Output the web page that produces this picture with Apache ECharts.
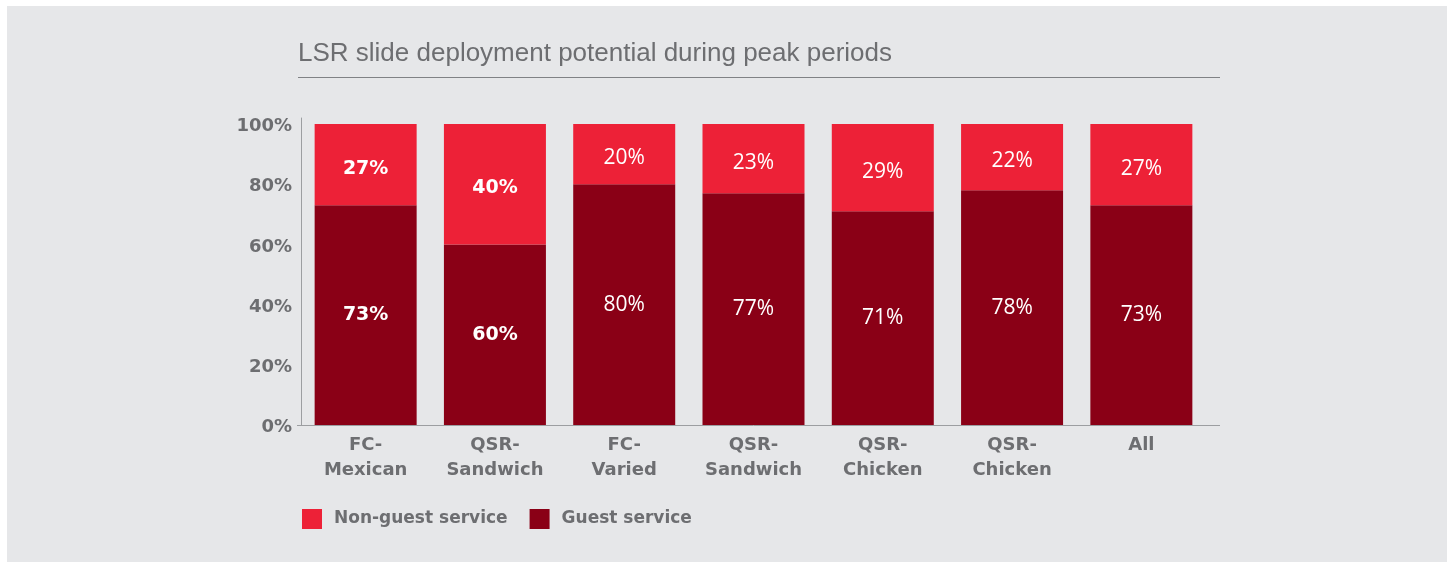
<!DOCTYPE html>
<html>
<head>
<meta charset="utf-8">
<script src="https://cdn.jsdelivr.net/npm/echarts@6/dist/echarts.min.js"></script>
<style>
  html, body { margin: 0; padding: 0; background: #ffffff; }
  #chart { width: 1450px; height: 564px; }
</style>
</head>
<body>
<div id="chart"></div>
<script>
// Restaurant segments along the x axis
const categories = ['FC-\nMexican', 'QSR-\nSandwich', 'FC-\nVaried', 'QSR-\nSandwich', 'QSR-\nChicken', 'QSR-\nChicken', 'All'];
// Share of slide deployment potential, in percent
const guestService = [73, 60, 80, 77, 71, 78, 73];
const nonGuestService = [27, 40, 20, 23, 29, 22, 27];
// Y axis tick values
const yTicks = [0, 20, 40, 60, 80, 100];

const TEXT_GRAY = '#6d6e71';
const AXIS_GRAY = '#9c9ea1';
const DARK_RED = '#8a0016';
const LIGHT_RED = '#ed2137';
const AXIS_FONT = 'DejaVu Sans';

// The first two columns carry bold labels, the rest a lighter face
const boldLabel = { fontFamily: 'DejaVu Sans', fontWeight: 'bold', fontSize: 19 };
const plainLabel = { fontFamily: 'Open Sans', fontWeight: 'normal', fontSize: 21 };
function withLabels(values) {
  return values.map((v, i) => ({ value: v, label: i < 2 ? boldLabel : plainLabel }));
}

const chart = echarts.init(document.getElementById('chart'), null, { renderer: 'canvas' });

chart.setOption({
  backgroundColor: '#ffffff',
  animation: false,
  title: {
    text: 'LSR slide deployment potential during peak periods',
    left: 293,
    top: 36,
    textStyle: { fontFamily: 'Liberation Sans', fontSize: 26, fontWeight: 'normal', color: TEXT_GRAY }
  },
  graphic: [
    { type: 'rect', z: -10, silent: true, shape: { x: 7, y: 6, width: 1440, height: 556 }, style: { fill: '#e6e7e9' } },
    { type: 'line', silent: true, shape: { x1: 298, y1: 77.5, x2: 1220, y2: 77.5 }, style: { stroke: '#808285', lineWidth: 1 } },
    { type: 'line', silent: true, shape: { x1: 1205, y1: 425.5, x2: 1220, y2: 425.5 }, style: { stroke: AXIS_GRAY, lineWidth: 1 } },
    { type: 'line', silent: true, shape: { x1: 297, y1: 425.5, x2: 301, y2: 425.5 }, style: { stroke: AXIS_GRAY, lineWidth: 1 } }
  ],
  legend: {
    data: ['Non-guest service', 'Guest service'],
    left: 297,
    top: 504,
    icon: 'rect',
    itemWidth: 20,
    itemHeight: 20,
    itemGap: 22,
    textStyle: { fontFamily: AXIS_FONT, fontWeight: 'bold', fontSize: 17, color: TEXT_GRAY, padding: [0, 0, 0, 7] }
  },
  grid: { left: 301, top: 118, width: 905, height: 307, containLabel: false },
  xAxis: {
    type: 'category',
    data: categories,
    axisLine: { lineStyle: { color: AXIS_GRAY, width: 1 } },
    axisTick: { show: false },
    axisLabel: { margin: 8, fontFamily: AXIS_FONT, fontWeight: 'bold', fontSize: 18, lineHeight: 25, color: TEXT_GRAY, interval: 0 }
  },
  yAxis: {
    type: 'value',
    min: 0,
    max: 102,
    interval: 20,
    axisLine: { show: true, lineStyle: { color: AXIS_GRAY, width: 1 } },
    axisTick: { show: false },
    splitLine: { show: false },
    axisLabel: {
      margin: 9,
      showMaxLabel: false,
      formatter: v => (yTicks.indexOf(v) >= 0 ? '{t|' + v + '%}' : ''),
      rich: {
        t: { fontFamily: AXIS_FONT, fontWeight: 'bold', fontSize: 18, color: TEXT_GRAY, padding: [5, 0, 0, 0] }
      }
    }
  },
  series: [
    {
      name: 'Guest service',
      type: 'bar',
      stack: 'share',
      barWidth: 102,
      itemStyle: { color: DARK_RED },
      label: { show: true, position: 'inside', color: '#ffffff', formatter: '{c}%' },
      data: withLabels(guestService)
    },
    {
      name: 'Non-guest service',
      type: 'bar',
      stack: 'share',
      barWidth: 102,
      itemStyle: { color: LIGHT_RED },
      label: { show: true, position: 'inside', offset: [0, 4], color: '#ffffff', formatter: '{c}%' },
      data: withLabels(nonGuestService)
    }
  ]
});
</script>
</body>
</html>
